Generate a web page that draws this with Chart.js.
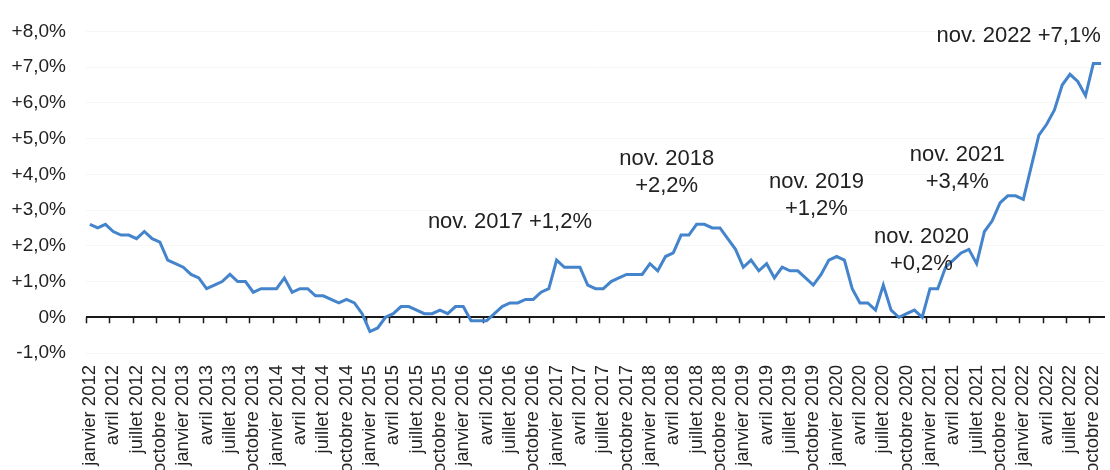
<!DOCTYPE html>
<html lang="fr">
<head>
<meta charset="utf-8">
<title>Inflation France 2012-2022</title>
<script src="https://cdn.jsdelivr.net/npm/chart.js@4"></script>
<style>
  html, body { margin: 0; padding: 0; background: #fff; overflow: hidden; }
  #wrap { width: 1110px; height: 470px; }
</style>
</head>
<body>
<div id="wrap"><canvas id="chart" width="1110" height="470"></canvas></div>
<script>
const monthNames = ['janvier', 'février', 'mars', 'avril', 'mai', 'juin', 'juillet', 'août', 'septembre', 'octobre', 'novembre', 'décembre'];
const years = [2012, 2013, 2014, 2015, 2016, 2017, 2018, 2019, 2020, 2021, 2022];

// glissement annuel, en %
const v2012 = [2.6, 2.5, 2.6, 2.4, 2.3, 2.3, 2.2, 2.4, 2.2, 2.1, 1.6, 1.5];
const v2013 = [1.4, 1.2, 1.1, 0.8, 0.9, 1.0, 1.2, 1.0, 1.0, 0.7, 0.8, 0.8];
const v2014 = [0.8, 1.1, 0.7, 0.8, 0.8, 0.6, 0.6, 0.5, 0.4, 0.5, 0.4, 0.1];
const v2015 = [-0.4, -0.3, 0.0, 0.1, 0.3, 0.3, 0.2, 0.1, 0.1, 0.2, 0.1, 0.3];
const v2016 = [0.3, -0.1, -0.1, -0.1, 0.1, 0.3, 0.4, 0.4, 0.5, 0.5, 0.7, 0.8];
const v2017 = [1.6, 1.4, 1.4, 1.4, 0.9, 0.8, 0.8, 1.0, 1.1, 1.2, 1.2, 1.2];
const v2018 = [1.5, 1.3, 1.7, 1.8, 2.3, 2.3, 2.6, 2.6, 2.5, 2.5, 2.2, 1.9];
const v2019 = [1.4, 1.6, 1.3, 1.5, 1.1, 1.4, 1.3, 1.3, 1.1, 0.9, 1.2, 1.6];
const v2020 = [1.7, 1.6, 0.8, 0.4, 0.4, 0.2, 0.9, 0.2, 0.0, 0.1, 0.2, 0.0];
const v2021 = [0.8, 0.8, 1.4, 1.6, 1.8, 1.9, 1.5, 2.4, 2.7, 3.2, 3.4, 3.4];
const v2022 = [3.3, 4.2, 5.1, 5.4, 5.8, 6.5, 6.8, 6.6, 6.2, 7.1, 7.1];

const yTickLabels = ['-1,0%', '0%', '+1,0%', '+2,0%', '+3,0%', '+4,0%', '+5,0%', '+6,0%', '+7,0%', '+8,0%'];

const noteTexts = [
    ['nov. 2017 +1,2%'],
    ['nov. 2018', '+2,2%'],
    ['nov. 2019', '+1,2%'],
    ['nov. 2020', '+0,2%'],
    ['nov. 2021', '+3,4%'],
    ['nov. 2022 +7,1%']
];

const values = [].concat(v2012, v2013, v2014, v2015, v2016, v2017, v2018, v2019, v2020, v2021, v2022);
const labels = [];
years.forEach(y => monthNames.forEach(m => labels.push(m + ' ' + y)));
labels.length = values.length;

const FONT = '"Liberation Sans", Arial, sans-serif';

// annotations placed in data space (category index, value)
const notesPlugin = {
    id: 'notes',
    afterDatasetsDraw(chart, args, opts) {
        const ctx = chart.ctx;
        const xs = chart.scales.x, ys = chart.scales.y;
        ctx.save();
        ctx.font = '22px ' + FONT;
        ctx.fillStyle = '#222';
        ctx.textAlign = 'center';
        ctx.textBaseline = 'middle';
        noteTexts.forEach((lines, n) => {
            const a = opts.anchors[n];
            const x = xs.getPixelForValue(a.i);
            const y = ys.getPixelForValue(a.v);
            lines.forEach((t, k) => ctx.fillText(t, x, y + k * opts.lineGap));
        });
        ctx.restore();
    }
};

// quarter tick marks hanging under the 0 line
const zeroTicksPlugin = {
    id: 'zeroTicks',
    beforeDatasetsDraw(chart) {
        const ctx = chart.ctx;
        const xs = chart.scales.x, ys = chart.scales.y;
        const y0 = ys.getPixelForValue(0);
        const step = xs.getPixelForValue(1) - xs.getPixelForValue(0);
        ctx.save();
        ctx.strokeStyle = '#1a1a1a';
        ctx.lineWidth = 1.5;
        ctx.beginPath();
        for (let i = 0; i < labels.length; i += 3) {
            const x = Math.round(xs.getPixelForValue(i) - step / 2) + 0.5;
            ctx.moveTo(x, y0);
            ctx.lineTo(x, y0 + 6);
        }
        ctx.stroke();
        ctx.restore();
    }
};

new Chart(document.getElementById('chart'), {
    type: 'line',
    data: {
        labels: labels,
        datasets: [{
            data: values,
            borderColor: '#4384cc',
            borderWidth: 3,
            pointRadius: 0,
            tension: 0,
            fill: false
        }]
    },
    options: {
        responsive: false,
        animation: false,
        layout: { padding: { top: 22, right: 5, left: 0, bottom: 0 } },
        plugins: {
            legend: { display: false },
            tooltip: { enabled: false },
            notes: {
                lineGap: 26.7,
                anchors: [
                    { i: 54.0, v: 2.66 },
                    { i: 74.15, v: 4.43 },
                    { i: 93.4, v: 3.79 },
                    { i: 106.9, v: 2.25 },
                    { i: 111.5, v: 4.54 },
                    { i: 119.4, v: 7.87 }
                ]
            }
        },
        scales: {
            x: {
                offset: true,
                border: { display: false },
                grid: { display: false, drawTicks: false },
                afterFit: s => {
                    s.height = 117;
                    s.paddingLeft = 0;
                    s.paddingRight = 0;
                },
                ticks: {
                    autoSkip: false,
                    minRotation: 90,
                    maxRotation: 90,
                    padding: 12,
                    color: '#222',
                    font: { family: FONT, size: 18.5 },
                    callback: function (v, i) { return i % 3 === 0 ? this.getLabelForValue(v) : ''; }
                }
            },
            y: {
                min: -1,
                max: 8,
                border: { display: false },
                afterFit: s => { s.width = 86; },
                grid: {
                    drawTicks: false,
                    color: c => c.tick.value === 0 ? '#1a1a1a' : 'rgba(0,0,0,0.035)',
                    lineWidth: c => c.tick.value === 0 ? 2 : 1
                },
                ticks: {
                    stepSize: 1,
                    padding: 20,
                    color: '#222',
                    font: { family: FONT, size: 19 },
                    callback: v => yTickLabels[Math.round(v) + 1]
                }
            }
        }
    },
    plugins: [zeroTicksPlugin, notesPlugin]
});
</script>
</body>
</html>
